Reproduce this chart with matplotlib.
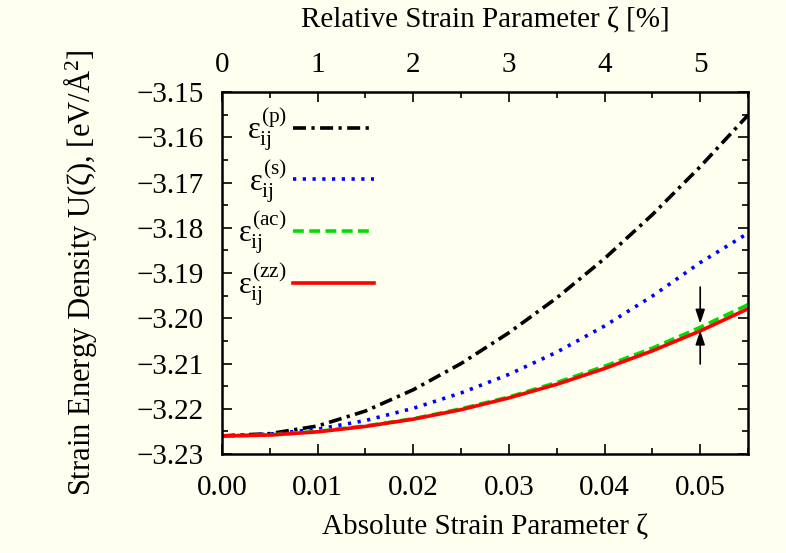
import matplotlib
matplotlib.use("Agg")
import matplotlib.pyplot as plt
from matplotlib.ticker import MultipleLocator, FixedLocator, FuncFormatter

plt.rcParams['font.family'] = ['Liberation Serif', 'DejaVu Serif']
plt.rcParams['mathtext.fontset'] = 'custom'
plt.rcParams['mathtext.rm'] = 'Liberation Serif'
plt.rcParams['mathtext.it'] = 'Liberation Serif'

# strain parameter zeta (absolute)
zeta = [0.000, 0.005, 0.010, 0.015, 0.020, 0.025, 0.030, 0.035, 0.040, 0.045, 0.050, 0.055]

# strain energy density U(zeta) [eV/A^2] per strain type
u_p = [-3.2260, -3.2255, -3.2238, -3.2205, -3.2158, -3.2100, -3.2032, -3.1955, -3.1868, -3.1771, -3.1665, -3.1551]
u_s = [-3.2260, -3.2256, -3.2245, -3.2226, -3.2199, -3.2165, -3.2124, -3.2075, -3.2017, -3.1951, -3.1877, -3.1812]
u_ac = [-3.2260, -3.2258, -3.2250, -3.2238, -3.2222, -3.2200, -3.2174, -3.2142, -3.2106, -3.2066, -3.2020, -3.1970]
u_zz = [-3.2260, -3.2258, -3.2251, -3.2239, -3.2223, -3.2202, -3.2176, -3.2146, -3.2111, -3.2072, -3.2028, -3.1979]

labels = [r'$ε_{ij}^{(p)}$', r'$ε_{ij}^{(s)}$', r'$ε_{ij}^{(ac)}$', r'$ε_{ij}^{(zz)}$']

# relative strain ticks on top axis, in %
top_ticks = [0, 1, 2, 3, 4, 5]

# gap markers at zeta = 0.05
arrow_x = 0.05
arrow_down = (-3.1931, -3.2012)
arrow_up = (-3.2101, -3.2027)


def minus_fmt(v, pos):
    return ('%.2f' % v).replace('-', '\u2212')


bg = '#fffff0'
fig = plt.figure(figsize=(7.86, 5.53), dpi=100, facecolor=bg)
ax = fig.add_axes([0.2824, 0.179, 0.6693, 0.6546], facecolor=bg)

lw = 2.6
ax.plot(zeta, u_p, color='black', lw=lw, dashes=(3.6, 1.5, 0.9, 1.5), label=labels[0])
ax.plot(zeta, u_s, color='#0000ff', lw=lw, dashes=(0.9, 1.8), label=labels[1])
ax.plot(zeta, u_ac, color='#00e000', lw=lw, dashes=(3.0, 1.5), label=labels[2])
ax.plot(zeta, u_zz, color='#ff0000', lw=lw, label=labels[3])

for start, end in (arrow_down, arrow_up):
    ax.annotate('', xy=(arrow_x, end), xytext=(arrow_x, start),
                arrowprops=dict(arrowstyle='-|>,head_length=0.6,head_width=0.2', color='black', lw=1.2,
                                mutation_scale=14, shrinkA=0, shrinkB=0))

ax.set_xlim(0, 0.055)
ax.set_ylim(-3.23, -3.15)
ax.xaxis.set_major_locator(MultipleLocator(0.01))
ax.xaxis.set_minor_locator(MultipleLocator(0.005))
ax.yaxis.set_major_locator(MultipleLocator(0.01))
ax.yaxis.set_minor_locator(MultipleLocator(0.005))
ax.xaxis.set_major_formatter(FuncFormatter(minus_fmt))
ax.yaxis.set_major_formatter(FuncFormatter(minus_fmt))
ax.tick_params(which='both', direction='in', right=True, top=False, labelsize=21, width=1.2)
ax.tick_params(which='major', length=7)
ax.tick_params(which='minor', length=4)
ax.tick_params(axis='x', which='major', pad=15)
ax.tick_params(axis='y', which='major', pad=13)
for s in ax.spines.values():
    s.set_linewidth(1.8)

ax.set_xlabel('Absolute Strain Parameter ζ', fontsize=21, labelpad=10)
ax.set_ylabel('Strain Energy Density U(ζ), [eV/Å$^2$]', fontsize=22, labelpad=27)

top = ax.secondary_xaxis('top', functions=(lambda x: x * 100, lambda x: x / 100))
top.xaxis.set_major_locator(FixedLocator(top_ticks))
top.xaxis.set_minor_locator(FixedLocator([t + 0.5 for t in top_ticks]))
top.tick_params(which='both', direction='in', labelsize=21, width=1.2)
top.tick_params(which='major', length=7, pad=10)
top.tick_params(which='minor', length=4)
top.set_xlabel('Relative Strain Parameter ζ [%]', fontsize=21, labelpad=18)

ax.legend(loc='upper left', bbox_to_anchor=(0.008, 1.0), frameon=False, markerfirst=False,
          fontsize=22, handlelength=2.65, labelspacing=0.1, handletextpad=0.2,
          borderaxespad=0.0)

fig.savefig('out.png', dpi=100, facecolor=bg)
